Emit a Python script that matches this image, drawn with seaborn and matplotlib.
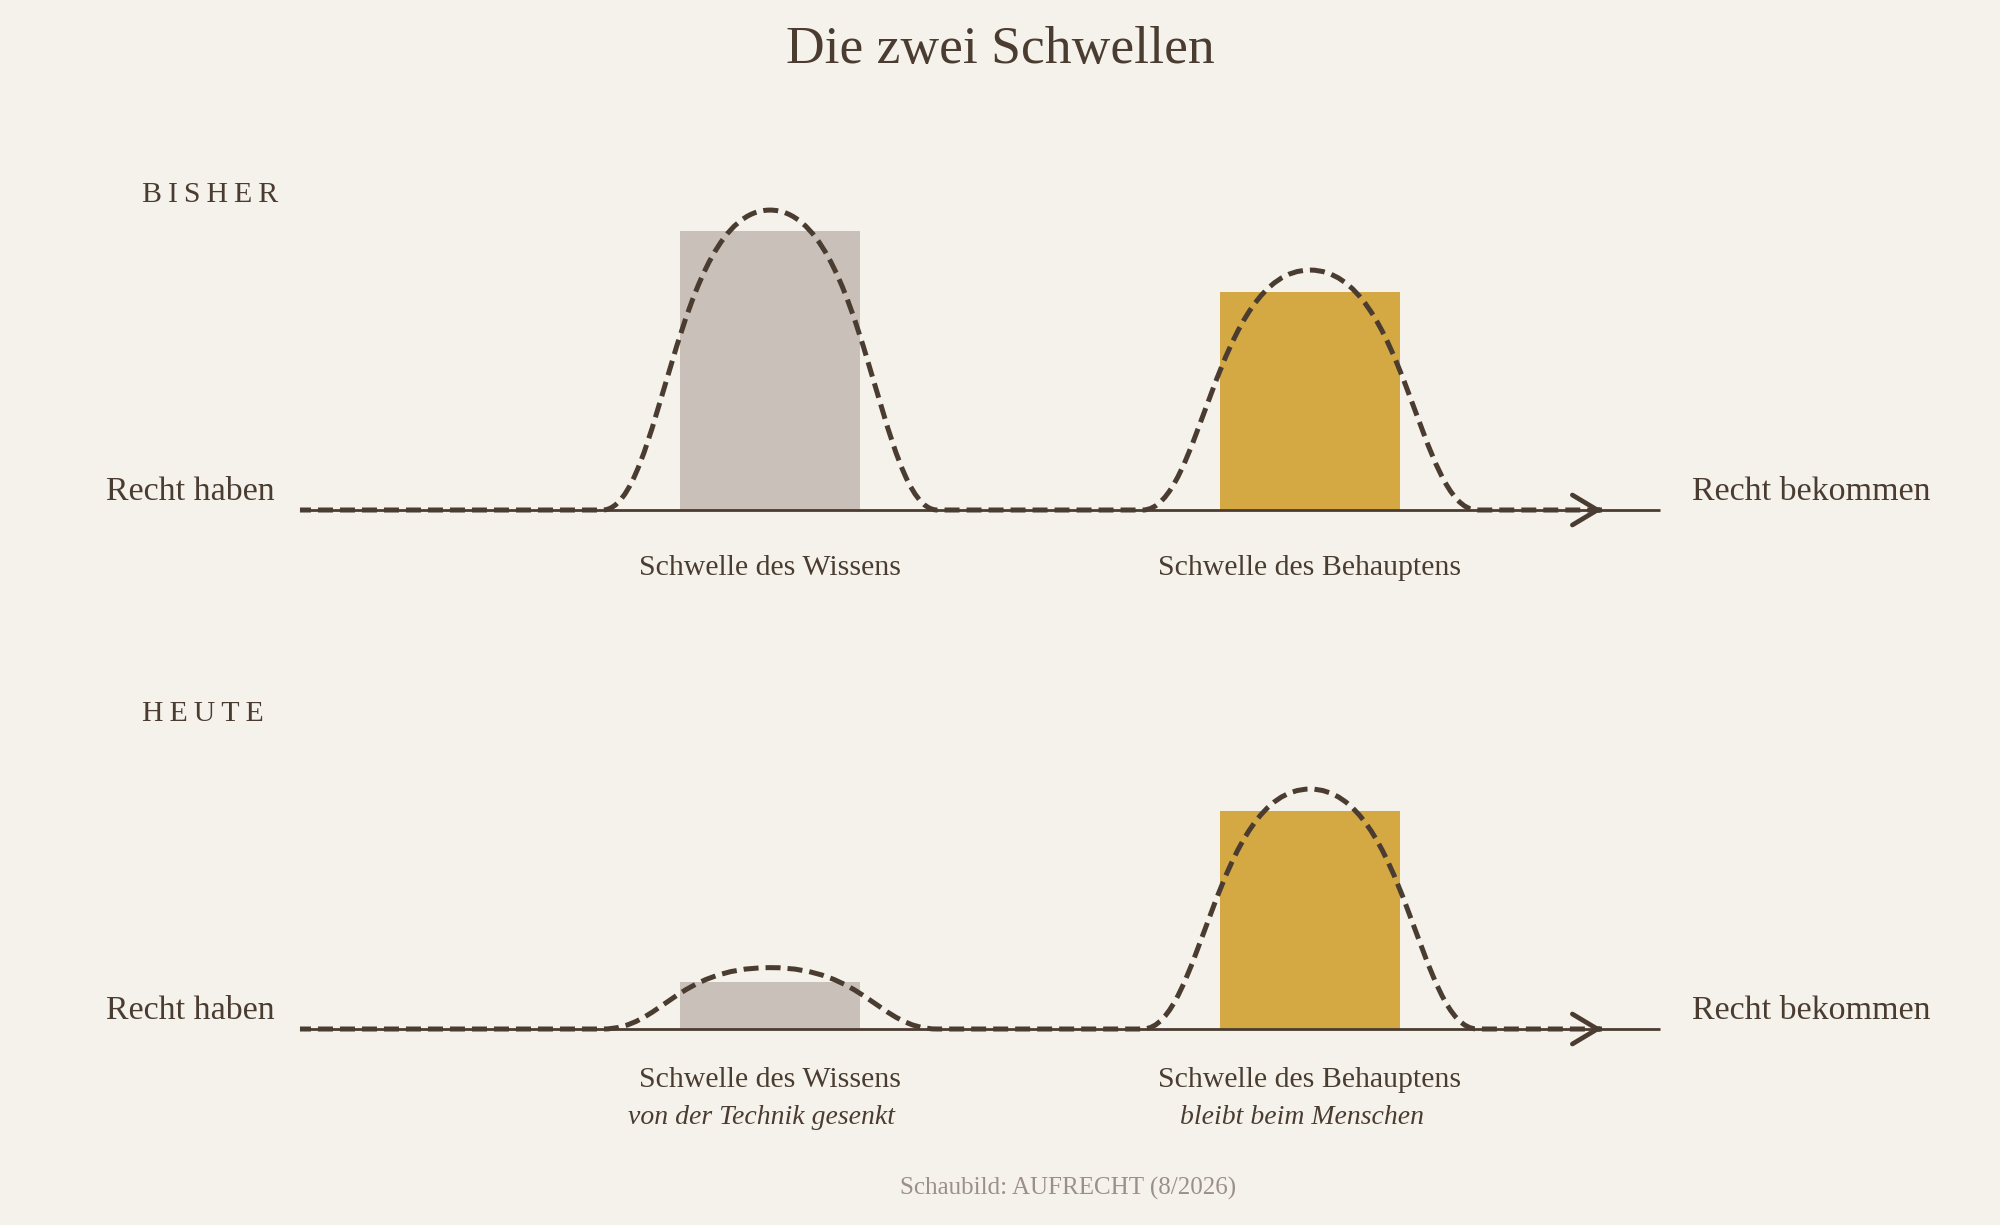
import matplotlib

matplotlib.use("Agg")
import matplotlib.pyplot as plt
import pandas
import seaborn as sns
from matplotlib.patches import PathPatch
from matplotlib.path import Path

# --- data --------------------------------------------------------------
SCHWELLEN = ["Schwelle des Wissens", "Schwelle des Behauptens"]
PHASEN = ["BISHER", "HEUTE"]
HOEHE_BISHER = [100, 78]
HOEHE_HEUTE = [17, 78]
KURVE_BISHER = [107.5, 86]  # peak of the dashed bump over each bar
KURVE_HEUTE = [22, 86]
UNTERTITEL_BISHER = ["", ""]
UNTERTITEL_HEUTE = ["von der Technik gesenkt", "bleibt beim Menschen"]
LINKS = "Recht haben"
RECHTS = "Recht bekommen"
TITEL = "Die zwei Schwellen"
QUELLE = "Schaubild: AUFRECHT (8/2026)"

BG = "#F5F2EB"
INK = "#4A3C31"
GREY_TXT = "#9B9088"
PALETTE = dict(zip(SCHWELLEN, ["#C8C0B9", "#D4A843"]))

SERIF = ["Liberation Serif", "DejaVu Serif"]

sns.set_theme(style="white")
plt.rcParams["font.family"] = SERIF
plt.rcParams["figure.facecolor"] = BG
plt.rcParams["axes.facecolor"] = "none"

df = pandas.DataFrame(
    {
        "phase": [PHASEN[0]] * 2 + [PHASEN[1]] * 2,
        "schwelle": SCHWELLEN * 2,
        "hoehe": HOEHE_BISHER + HOEHE_HEUTE,
        "kurve": KURVE_BISHER + KURVE_HEUTE,
        "unter": UNTERTITEL_BISHER + UNTERTITEL_HEUTE,
    }
)

# x: category units (540 px apart), y: value units (2.79 px each)
XLIM = (-1.4259, 2.2778)
YLIM = (-35.84, 143.37)
LINE_X0, LINE_X1 = -0.8704, 1.648
ARROW_TIP = 1.5407
HALF_W = 0.31


def bump_path(centers, peaks, x0, x1, hw, a=0.35, b=0.57):
    verts = [(x0, 0)]
    codes = [Path.MOVETO]
    for c, p in zip(centers, peaks):
        left, right = c - hw, c + hw
        verts += [(left, 0)]
        codes += [Path.LINETO]
        verts += [(left + a * hw, 0), (c - b * hw, p), (c, p)]
        codes += [Path.CURVE4] * 3
        verts += [(c + b * hw, p), (right - a * hw, 0), (right, 0)]
        codes += [Path.CURVE4] * 3
    verts += [(x1, 0)]
    codes += [Path.LINETO]
    return Path(verts, codes)


fig = plt.figure(figsize=(20, 12.25), dpi=100)
axes = [
    fig.add_axes([0, 0.50204, 1, 0.40816]),
    fig.add_axes([0, 0.078367, 1, 0.40816]),
]

for ax, phase in zip(axes, PHASEN):
    sub = df[df["phase"] == phase]
    sns.barplot(
        data=sub,
        x="schwelle",
        y="hoehe",
        hue="schwelle",
        order=SCHWELLEN,
        hue_order=SCHWELLEN,
        palette=PALETTE,
        saturation=1,
        width=0.335,
        linewidth=0,
        errorbar=None,
        legend=False,
        ax=ax,
        zorder=1,
    )
    ax.set_xlim(*XLIM)
    ax.set_ylim(*YLIM)
    ax.axis("off")

    # baseline
    ax.plot([LINE_X0, LINE_X1], [0, 0], color=INK, lw=2, zorder=2,
            solid_capstyle="butt")

    # dashed threshold curve
    centers = list(range(len(SCHWELLEN)))
    path = bump_path(centers, sub["kurve"].tolist(), LINE_X0, ARROW_TIP, HALF_W)
    ax.add_patch(
        PathPatch(path, fill=False, edgecolor=INK, lw=3.6,
                  linestyle=(0.8, (3.0, 1.4)), capstyle="butt", zorder=3)
    )
    ax.annotate(
        "",
        xy=(ARROW_TIP, 0),
        xytext=(ARROW_TIP - 0.006, 0),
        arrowprops=dict(
            arrowstyle="->,head_length=0.9,head_width=0.54",
            mutation_scale=20,
            color=INK,
            lw=3.4,
            shrinkA=0,
            shrinkB=0,
        ),
        zorder=4,
    )

    ax.text(-1.163, 110.4, "\u2009".join(phase), ha="left", va="baseline",
            fontsize=21.5, color=INK)
    ax.text(-0.9167, 3.58, LINKS, ha="right", va="baseline",
            fontsize=24.5, color=INK)
    ax.text(1.7074, 3.58, RECHTS, ha="left", va="baseline",
            fontsize=24.5, color=INK)

    has_sub = any(sub["unter"])
    label_y = -20.8 if has_sub else -23.3
    for i, (name, unter) in enumerate(zip(sub["schwelle"], sub["unter"])):
        ax.text(i, label_y, name, ha="center", va="baseline",
                fontsize=21.5, color=INK)
        if unter:
            ax.text(i - 0.015, -34.05, unter, ha="center", va="baseline",
                    fontsize=20, color=INK, style="italic")

fig.text(0.5, 1 - 63.3 / 1225, TITEL, ha="center", va="baseline",
         fontsize=38.5, color=INK)
fig.text(1068 / 2000, 1 - 1195 / 1225, QUELLE, ha="center", va="baseline",
         fontsize=18, color=GREY_TXT)

fig.savefig("out.png", dpi=100, facecolor=BG)
plt.close(fig)
